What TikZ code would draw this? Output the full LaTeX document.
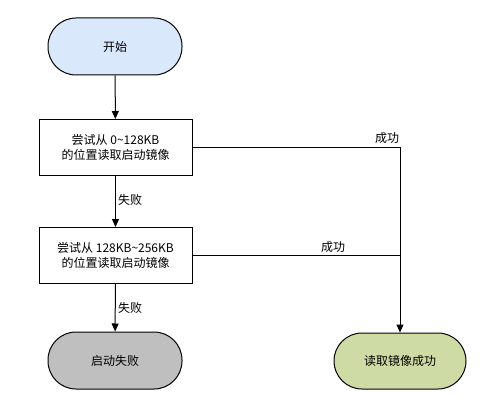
\documentclass[tikz,border=0pt]{standalone}
\usepackage{fontspec}
\setmainfont{Noto Sans CJK SC}
\usetikzlibrary{arrows.meta}
\definecolor{startblue}{HTML}{DAE8FC}
\definecolor{failgray}{HTML}{BFBFBF}
\definecolor{okgreen}{HTML}{CFDBA5}
\begin{document}
\begin{tikzpicture}[x=1pt,y=-1pt,
  font=\fontsize{12pt}{15.5pt}\selectfont,
  term/.style={draw=black,line width=1pt,rounded corners=28pt,minimum width=134pt,minimum height=57pt,inner sep=0pt},
  procbox/.style={draw=black,line width=1pt,fill=white,minimum width=153pt,minimum height=56pt,inner sep=0pt,align=center},
  conn/.style={line width=1pt,-{Triangle[length=8pt,width=7pt]}},
  plainconn/.style={line width=1pt},
  lbl/.style={inner sep=1pt}
]
\useasboundingbox (0,0) rectangle (501,409);
\fill[white] (0,0) rectangle (501,409);
\node[term,fill=startblue] (start) at (115,46.5) {开始};
\node[procbox] (b1) at (115.5,147.5) {尝试从 0\textasciitilde128KB\\的位置读取启动镜像};
\node[procbox] (b2) at (115.5,255.5) {尝试从 128KB\textasciitilde256KB\\的位置读取启动镜像};
\node[term,fill=failgray] (fail) at (115,360.5) {启动失败};
\node[term,fill=okgreen,minimum width=132pt,minimum height=56pt] (ok) at (400,361) {读取镜像成功};
\coordinate (j1) at (ok.north |- b1.east);
\coordinate (j2) at (ok.north |- b2.east);
\draw[conn] (start) -- (b1);
\draw[conn] (b1) -- (b2);
\draw[conn] (b2) -- (fail);
\draw[conn] (b1.east) -- (j1) -- (ok.north);
\draw[plainconn] (b2.east) -- (j2);
\node[lbl,anchor=west] (f1) at (117,200) {失败};
\node[lbl,anchor=west] (f2) at (117,308) {失败};
\node[lbl] (s1) at (387,138) {成功};
\node[lbl] (s2) at (333,246.5) {成功};
\end{tikzpicture}
\end{document}
